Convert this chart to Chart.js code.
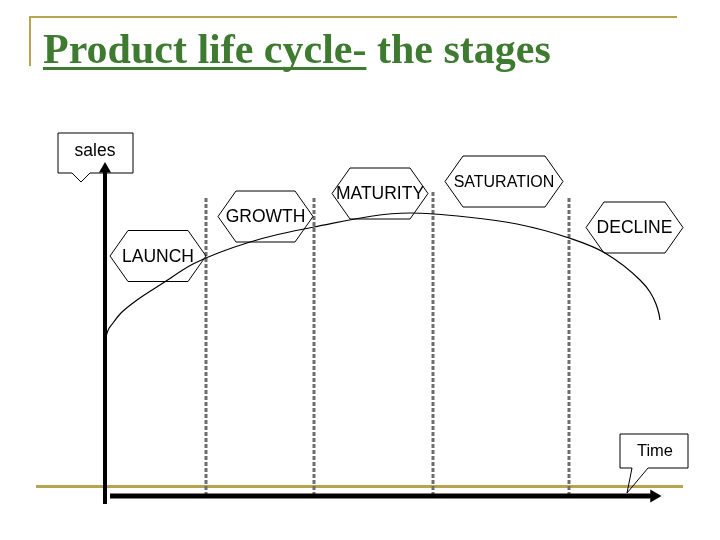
<!DOCTYPE html>
<html>
<head>
<meta charset="utf-8">
<title>Product life cycle</title>
<script src="https://cdn.jsdelivr.net/npm/chart.js@4.4.1/dist/chart.umd.min.js"></script>
<style>
    html, body { margin: 0; padding: 0; background: #ffffff; }
    #wrap { position: relative; width: 720px; height: 540px; }
</style>
</head>
<body>
<div id="wrap"><canvas id="plcChart" width="720" height="540"></canvas></div>
<script>
// Stage names, in the order they appear along the time axis
const stages = ['LAUNCH', 'GROWTH', 'MATURITY', 'SATURATION', 'DECLINE'];

// Time at which each stage ends (dashed dividers) and how high each divider reaches
const dividerTime = [101, 209, 328, 464];
const dividerTop = [300, 300, 306, 299];

// Sales curve (time, sales)
const curveTime = [0, 2, 8, 16, 32, 58, 88, 145, 209, 305, 362, 412, 464, 500, 535, 545, 551, 554, 555];
const curveSales = [153, 163, 173, 183, 196, 213, 232, 254, 269, 283, 279, 272, 258, 243, 216, 204, 192, 182, 176];

// Axis extents
const timeAxis = [5, 549];
const salesAxis = [-8, 327];

// Where each stage label sits (time, sales)
const labelTime = [53, 160.5, 275, 399, 529.5];
const labelSales = [240, 279.5, 302.5, 314.5, 268.5];

const OLIVE = '#b8a44c';
const GREEN = '#3e7a30';
const SANS = '"Liberation Sans", Arial, sans-serif';

// dividers -> one little line dataset each
const dividerSets = dividerTime.map((t, i) => ({
    data: [{ x: t, y: 0 }, { x: t, y: dividerTop[i] }],
    borderColor: '#6e6e6e',
    borderWidth: 3,
    borderDash: [4, 2],
    pointRadius: 0
}));

function hexagon(ctx, cx, cy, hw, hh, inset) {
    ctx.beginPath();
    ctx.moveTo(cx - hw, cy);
    ctx.lineTo(cx - hw + inset, cy - hh);
    ctx.lineTo(cx + hw - inset, cy - hh);
    ctx.lineTo(cx + hw, cy);
    ctx.lineTo(cx + hw - inset, cy + hh);
    ctx.lineTo(cx - hw + inset, cy + hh);
    ctx.closePath();
    ctx.stroke();
}

// box with a little pointer, left open (no fill) like the slide
function callout(ctx, left, top, right, bottom, b1, b2, tipX, tipY) {
    ctx.beginPath();
    ctx.moveTo(left, top);
    ctx.lineTo(right, top);
    ctx.lineTo(right, bottom);
    ctx.lineTo(b2, bottom);
    ctx.lineTo(tipX, tipY);
    ctx.lineTo(b1, bottom);
    ctx.lineTo(left, bottom);
    ctx.closePath();
    ctx.stroke();
}

const slideDecor = {
    id: 'slideDecor',
    beforeDatasetsDraw(chart) {
        const ctx = chart.ctx;
        ctx.save();
        // olive frame lines of the slide
        ctx.fillStyle = OLIVE;
        ctx.fillRect(29, 16, 648, 2);
        ctx.fillRect(29, 16, 2, 50);
        ctx.fillRect(36, 485, 647, 3);

        // title
        ctx.fillStyle = GREEN;
        ctx.font = 'bold 42px "Liberation Serif", "Times New Roman", serif';
        ctx.textBaseline = 'alphabetic';
        const part1 = 'Product life cycle-';
        ctx.fillText(part1, 43, 63);
        const w1 = ctx.measureText(part1).width;
        ctx.fillText(' the stages', 43 + w1, 63);
        ctx.fillRect(43, 67, w1, 3);
        ctx.restore();
    },
    afterDatasetsDraw(chart) {
        const ctx = chart.ctx;
        const xs = chart.scales.x, ys = chart.scales.y;
        ctx.save();
        ctx.strokeStyle = '#000000';
        ctx.lineWidth = 1;

        // stage labels in hexagons
        const halfW = [48, 47.5, 48, 59, 48.5];
        const fontPx = [17.5, 17.5, 17.5, 16, 17.5];
        ctx.textAlign = 'center';
        ctx.textBaseline = 'middle';
        stages.forEach((name, i) => {
            const cx = xs.getPixelForValue(labelTime[i]);
            const cy = ys.getPixelForValue(labelSales[i]);
            hexagon(ctx, cx, cy, halfW[i], 25.5, 18);
            ctx.fillStyle = '#000000';
            ctx.font = fontPx[i] + 'px ' + SANS;
            ctx.fillText(name, cx, cy + 1);
        });

        // axis name callouts
        const x0 = xs.getPixelForValue(0);
        callout(ctx, x0 - 47, 133, x0 + 28, 173, x0 - 33, x0 - 15, x0 - 24, 182);
        ctx.fillStyle = '#000000';
        ctx.font = '17.5px ' + SANS;
        ctx.fillText('sales', x0 - 10, 151);

        const yb = ys.getPixelForValue(0);
        callout(ctx, 620, 434, 688, 468, 632, 648, 627, yb - 3);
        ctx.fillStyle = '#000000';
        ctx.font = '16.5px ' + SANS;
        ctx.fillText('Time', 655, 451);
        ctx.restore();
    }
};

const ctx = document.getElementById('plcChart').getContext('2d');
new Chart(ctx, {
    type: 'line',
    data: {
        datasets: [
            // sales axis with arrow head
            {
                data: [{ x: 0, y: salesAxis[0] }, { x: 0, y: salesAxis[1] }],
                borderColor: '#000000',
                borderWidth: 4,
                pointRadius: [0, 7],
                pointStyle: 'triangle',
                pointRotation: 0,
                pointBackgroundColor: '#000000',
                pointBorderWidth: 0
            },
            // time axis with arrow head
            {
                data: [{ x: timeAxis[0], y: 0 }, { x: timeAxis[1], y: 0 }],
                borderColor: '#000000',
                borderWidth: 5,
                pointRadius: [0, 7.5],
                pointStyle: 'triangle',
                pointRotation: 90,
                pointBackgroundColor: '#000000',
                pointBorderWidth: 0
            },
            // the product life cycle curve
            {
                data: curveTime.map((t, i) => ({ x: t, y: curveSales[i] })),
                borderColor: '#000000',
                borderWidth: 1.2,
                cubicInterpolationMode: 'monotone',
                pointRadius: 0
            },
            ...dividerSets
        ]
    },
    options: {
        responsive: false,
        animation: false,
        layout: { padding: 0, autoPadding: false },
        plugins: {
            legend: { display: false },
            tooltip: { enabled: false }
        },
        scales: {
            x: { type: 'linear', display: false, min: -105, max: 615 },
            y: { type: 'linear', display: false, min: -44, max: 496 }
        }
    },
    plugins: [slideDecor]
});
</script>
</body>
</html>
